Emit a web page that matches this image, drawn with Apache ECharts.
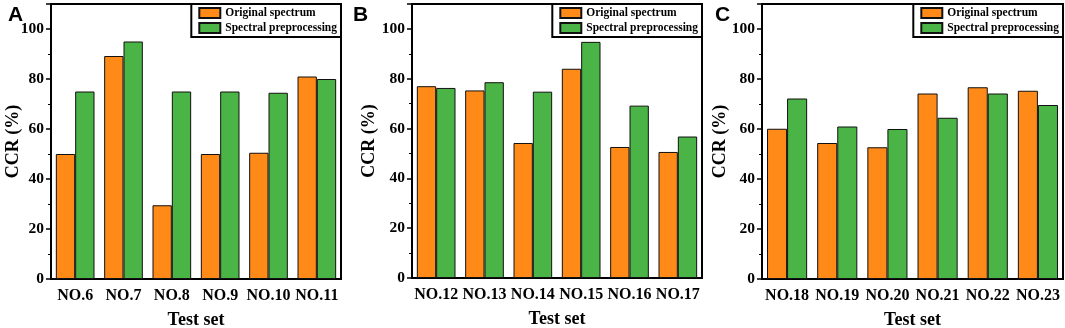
<!DOCTYPE html>
<html>
<head>
<meta charset="utf-8">
<script src="https://cdn.jsdelivr.net/npm/echarts@6/dist/echarts.min.js"></script>
<style>
  html, body { margin: 0; padding: 0; background: #fff; }
  #chart { width: 1065px; height: 328px; }
</style>
</head>
<body>
<div id="chart"></div>
<script>
// test sets per panel
var catsA = ['NO.6', 'NO.7', 'NO.8', 'NO.9', 'NO.10', 'NO.11'];
var catsB = ['NO.12', 'NO.13', 'NO.14', 'NO.15', 'NO.16', 'NO.17'];
var catsC = ['NO.18', 'NO.19', 'NO.20', 'NO.21', 'NO.22', 'NO.23'];

// CCR (%) values
var origA = [50, 89.2, 29.5, 50, 50.5, 81];
var prepA = [75, 95, 75, 75, 74.5, 80];
var origB = [77, 75.3, 54.2, 84, 52.6, 50.6];
var prepB = [76.3, 78.6, 74.8, 94.8, 69.2, 56.8];
var origC = [60.1, 54.4, 52.7, 74.2, 76.7, 75.3];
var prepC = [72.2, 61, 60, 64.5, 74.2, 69.6];

var panelNames = ['A', 'B', 'C'];
var seriesNames = ['Original spectrum', 'Spectral preprocessing'];

var serif = '"Liberation Serif", "Times New Roman", serif';
var ORANGE = '#FF8A17';
var GREEN = '#4BB447';

var grids = [
	{ left: 51, right: 1065 - 341, top: 4, bottom: 328 - 279 },
	{ left: 412, right: 1065 - 702, top: 4, bottom: 328 - 278 },
	{ left: 762, right: 1065 - 1063, top: 4, bottom: 328 - 279 }
];
var titleX = [3, 348, 710];
var yNameGap = [29, 34, 33];

var cats = [catsA, catsB, catsC];
var orig = [origA, origB, origC];
var prep = [prepA, prepB, prepC];

var option = {
	backgroundColor: '#fff',
	animation: false,
	title: [],
	legend: [],
	grid: [],
	xAxis: [],
	yAxis: [],
	series: []
};

grids.forEach(function(g, i) {
	option.grid.push({
		left: g.left, right: g.right, top: g.top, bottom: g.bottom,
		outerBoundsMode: 'none', containLabel: false,
		show: true, borderColor: '#000', borderWidth: 2, backgroundColor: '#fff'
	});

	option.title.push({
		text: panelNames[i],
		left: titleX[i], top: 0,
		textStyle: { fontFamily: '"Liberation Sans", Arial, sans-serif', fontWeight: 'bold', fontSize: 21, color: '#000' }
	});

	option.legend.push({
		data: seriesNames,
		orient: 'vertical',
		right: g.right, top: g.top,
		icon: 'rect',
		itemWidth: 21, itemHeight: 10, itemGap: 1,
		padding: [2, 4, 2, 7],
		borderColor: '#000', borderWidth: 2, backgroundColor: '#fff',
		selectedMode: false,
		textStyle: { fontFamily: serif, fontWeight: 'bold', fontSize: 11.5, color: '#000', lineHeight: 14 }
	});

	option.xAxis.push({
		type: 'category',
		gridIndex: i,
		data: cats[i],
		name: 'Test set',
		nameLocation: 'middle',
		nameGap: 32,
		nameMoveOverlap: false,
		nameTextStyle: { fontFamily: serif, fontWeight: 'bold', fontSize: 18, color: '#000' },
		axisLine: { lineStyle: { color: '#000', width: 2 } },
		axisTick: { alignWithLabel: true, length: 5, lineStyle: { color: '#000', width: 1.5 } },
		axisLabel: { interval: 0, margin: 9, fontFamily: serif, fontWeight: 'bold', fontSize: 16, color: '#000' }
	});

	option.yAxis.push({
		type: 'value',
		gridIndex: i,
		min: 0, max: 110, interval: 20,
		name: 'CCR (%)',
		nameLocation: 'middle',
		nameGap: yNameGap[i],
		nameMoveOverlap: false,
		nameTextStyle: { fontFamily: serif, fontWeight: 'bold', fontSize: 18, color: '#000' },
		axisLine: { show: true, lineStyle: { color: '#000', width: 2 } },
		axisTick: { show: true, length: 5, lineStyle: { color: '#000', width: 1.5 } },
		minorTick: { show: true, splitNumber: 2, length: 3, lineStyle: { color: '#000', width: 1 } },
		splitLine: { show: false },
		axisLabel: {
			margin: 7, fontFamily: serif, fontWeight: 'bold', fontSize: 15.5, color: '#000',
			formatter: function(v) { return v > 100 ? '' : v; }
		}
	});

	option.series.push({
		name: seriesNames[0], type: 'bar',
		xAxisIndex: i, yAxisIndex: i,
		barWidth: '40%', barGap: '0%',
		itemStyle: { color: ORANGE, borderColor: '#111', borderWidth: 1 },
		data: orig[i]
	}, {
		name: seriesNames[1], type: 'bar',
		xAxisIndex: i, yAxisIndex: i,
		barWidth: '40%', barGap: '0%',
		itemStyle: { color: GREEN, borderColor: '#111', borderWidth: 1 },
		data: prep[i]
	});
});

var myChart = echarts.init(document.getElementById('chart'), null, { renderer: 'canvas' });
myChart.setOption(option);
</script>
</body>
</html>
